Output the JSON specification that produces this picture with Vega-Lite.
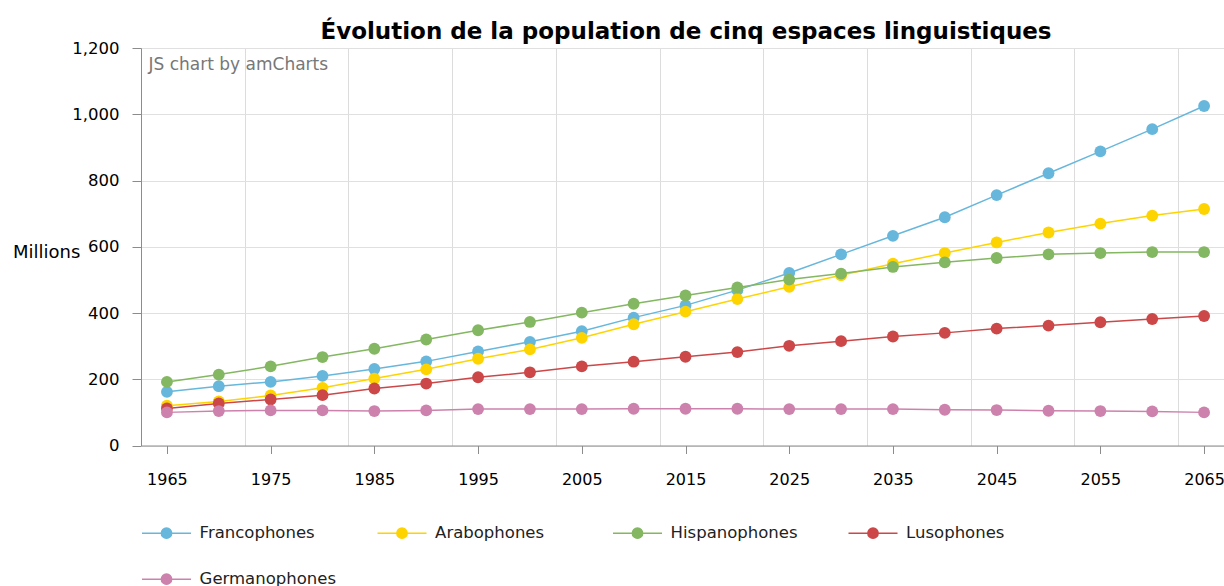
{
  "$schema": "https://vega.github.io/schema/vega-lite/v6.json",
  "autosize": {"type": "none"},
  "padding": {"left": 141, "top": 48, "right": 0, "bottom": 140.5},
  "width": 1083,
  "height": 397.5,
  "background": "white",
  "title": {
    "text": "Évolution de la population de cinq espaces linguistiques",
    "font": "DejaVu Sans",
    "fontSize": 23,
    "fontWeight": "bold",
    "color": "#000000",
    "anchor": "middle",
    "offset": 5,
    "dx": 3.5,
    "dy": 8.5
  },
  "config": {
    "font": "DejaVu Sans",
    "view": {"stroke": null},
    "legend": {"padding": 0}
  },
  "data": {
    "values": [
      {"annee": 1965, "Francophones": 162, "Arabophones": 120, "Hispanophones": 192, "Lusophones": 112, "Germanophones": 100},
      {"annee": 1970, "Francophones": 179, "Arabophones": 133, "Hispanophones": 214, "Lusophones": 127, "Germanophones": 104},
      {"annee": 1975, "Francophones": 192, "Arabophones": 151, "Hispanophones": 239, "Lusophones": 139, "Germanophones": 106},
      {"annee": 1980, "Francophones": 210, "Arabophones": 174, "Hispanophones": 267, "Lusophones": 152, "Germanophones": 106},
      {"annee": 1985, "Francophones": 231, "Arabophones": 202, "Hispanophones": 292, "Lusophones": 172, "Germanophones": 104},
      {"annee": 1990, "Francophones": 254, "Arabophones": 230, "Hispanophones": 320, "Lusophones": 187, "Germanophones": 106},
      {"annee": 1995, "Francophones": 284, "Arabophones": 262, "Hispanophones": 348, "Lusophones": 206, "Germanophones": 110},
      {"annee": 2000, "Francophones": 313, "Arabophones": 290, "Hispanophones": 373, "Lusophones": 221, "Germanophones": 110},
      {"annee": 2005, "Francophones": 345, "Arabophones": 325, "Hispanophones": 401, "Lusophones": 239, "Germanophones": 110},
      {"annee": 2010, "Francophones": 386, "Arabophones": 366, "Hispanophones": 428, "Lusophones": 253, "Germanophones": 111},
      {"annee": 2015, "Francophones": 423, "Arabophones": 404, "Hispanophones": 453, "Lusophones": 268, "Germanophones": 111},
      {"annee": 2020, "Francophones": 469, "Arabophones": 442, "Hispanophones": 477, "Lusophones": 282, "Germanophones": 111},
      {"annee": 2025, "Francophones": 521, "Arabophones": 479, "Hispanophones": 501, "Lusophones": 301, "Germanophones": 110},
      {"annee": 2030, "Francophones": 577, "Arabophones": 514, "Hispanophones": 519, "Lusophones": 315, "Germanophones": 110},
      {"annee": 2035, "Francophones": 633, "Arabophones": 549, "Hispanophones": 539, "Lusophones": 329, "Germanophones": 110},
      {"annee": 2040, "Francophones": 689, "Arabophones": 581, "Hispanophones": 553, "Lusophones": 340, "Germanophones": 108},
      {"annee": 2045, "Francophones": 756, "Arabophones": 613, "Hispanophones": 566, "Lusophones": 353, "Germanophones": 107},
      {"annee": 2050, "Francophones": 822, "Arabophones": 643, "Hispanophones": 577, "Lusophones": 362, "Germanophones": 105},
      {"annee": 2055, "Francophones": 888, "Arabophones": 670, "Hispanophones": 581, "Lusophones": 372, "Germanophones": 104},
      {"annee": 2060, "Francophones": 955, "Arabophones": 694, "Hispanophones": 584, "Lusophones": 382, "Germanophones": 103},
      {"annee": 2065, "Francophones": 1025, "Arabophones": 714, "Hispanophones": 584, "Lusophones": 391, "Germanophones": 100}
    ]
  },
  "transform": [
    {"fold": ["Francophones", "Arabophones", "Hispanophones", "Lusophones", "Germanophones"], "as": ["langue", "pop"]}
  ],
  "encoding": {
    "y": {
      "field": "pop",
      "type": "quantitative",
      "scale": {"domain": [0, 1200], "nice": false, "zero": true},
      "axis": {
        "values": [0, 200, 400, 600, 800, 1000, 1200],
        "format": ",.0f",
        "grid": true,
        "gridColor": "#e0e0e0",
        "gridWidth": 1,
        "domainColor": "#8c8c8c",
        "domainWidth": 1,
        "tickColor": "#8c8c8c",
        "tickSize": 9,
        "labelFontSize": 16.5,
        "labelColor": "#000000",
        "labelPadding": 13,
        "labelFont": "DejaVu Sans",
        "title": "Millions",
        "titleAngle": 0,
        "titleAlign": "left",
        "titleBaseline": "middle",
        "titleX": -128.5,
        "titleY": 204,
        "titleFontSize": 18,
        "titleFontWeight": "normal",
        "titleColor": "#000000",
        "titleFont": "DejaVu Sans"
      }
    },
    "color": {
      "field": "langue",
      "type": "nominal",
      "scale": {
        "domain": ["Francophones", "Arabophones", "Hispanophones", "Lusophones", "Germanophones"],
        "range": ["#67b7dc", "#fdd400", "#84b761", "#cc4748", "#cd82ad"]
      },
      "legend": {
        "title": null,
        "orient": "none",
        "legendX": 0,
        "legendY": 459.7,
        "direction": "horizontal",
        "columns": 4,
        "gridAlign": "all",
        "columnPadding": 38.5,
        "rowPadding": 12,
        "symbolType": "M-1,0L1,0M-0.21,0A0.21,0.21,0,1,1,0.21,0A0.21,0.21,0,1,1,-0.21,0Z",
        "symbolSize": 2401,
        "symbolStrokeWidth": 1.5,
        "symbolOpacity": 1,
        "labelFontSize": 16.5,
        "labelFont": "DejaVu Sans",
        "labelColor": "#222222",
        "labelOffset": 7.6,
        "labelBaseline": "middle",
        "encode": {
          "symbols": {
            "update": {
              "fill": {"scale": "color", "field": "value"},
              "stroke": {"scale": "color", "field": "value"},
              "opacity": {"value": 1}
            }
          }
        }
      }
    }
  },
  "layer": [
    {
      "mark": {"type": "line", "strokeWidth": 1.5},
      "encoding": {
        "x": {
          "field": "annee",
          "type": "quantitative",
          "scale": {"domain": [1962.5, 2066.92], "nice": false, "zero": false},
          "axis": {
            "values": [1965, 1975, 1985, 1995, 2005, 2015, 2025, 2035, 2045, 2055, 2065],
            "format": "d",
            "grid": false,
            "domainColor": "#8c8c8c",
            "domainWidth": 1,
            "tickColor": "#8c8c8c",
            "tickSize": 8,
            "labelFontSize": 16,
            "labelFont": "DejaVu Sans",
            "labelColor": "#000000",
            "labelPadding": 18,
            "labelFlush": false,
            "labelOverlap": false,
            "labelBound": false,
            "title": null
          }
        }
      }
    },
    {
      "mark": {"type": "point", "filled": true, "size": 140, "opacity": 1, "strokeWidth": 0},
      "encoding": {
        "x": {
          "field": "annee",
          "type": "quantitative",
          "scale": {"domain": [1962.5, 2066.92], "nice": false, "zero": false},
          "axis": {
            "orient": "top",
            "values": [1972.5, 1982.5, 1992.5, 2002.5, 2012.5, 2022.5, 2032.5, 2042.5, 2052.5, 2062.5],
            "grid": true,
            "gridColor": "#dcdcdc",
            "gridWidth": 1,
            "labels": false,
            "ticks": false,
            "domain": false,
            "title": "JS chart by amCharts",
            "titleAnchor": "start",
            "titleAlign": "left",
            "titleBaseline": "middle",
            "titleAngle": 0,
            "titleX": 7,
            "titleY": 16,
            "titleFont": "DejaVu Sans",
            "titleFontSize": 17,
            "titleFontWeight": "normal",
            "titleColor": "#777777"
          }
        }
      }
    }
  ],
  "resolve": {"axis": {"x": "independent"}}
}
